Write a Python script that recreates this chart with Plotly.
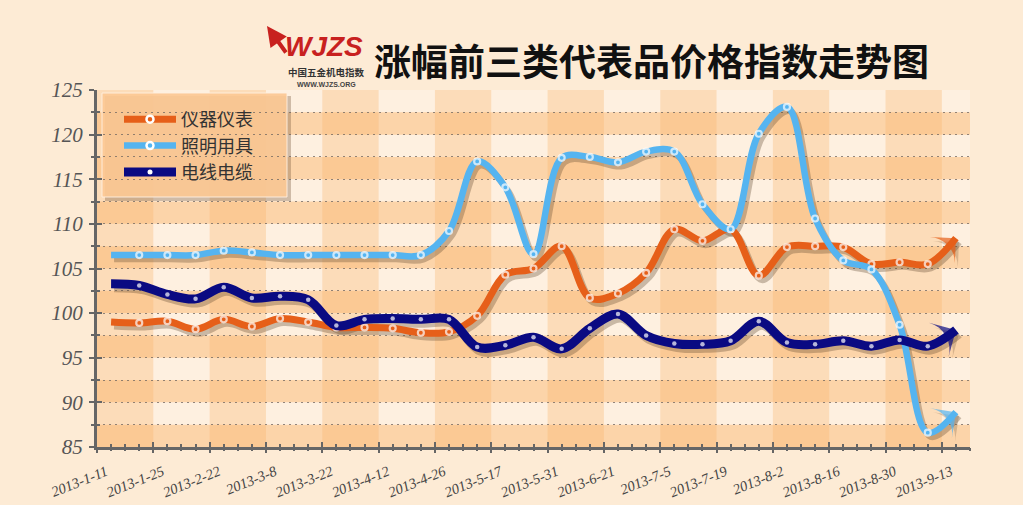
import plotly.graph_objects as go

# ---------------- data ----------------
dates = ["2013-1-11", "2013-1-18", "2013-1-25", "2013-2-1", "2013-2-22", "2013-3-1",
         "2013-3-8", "2013-3-15", "2013-3-22", "2013-3-29", "2013-4-12", "2013-4-19",
         "2013-4-26", "2013-5-10", "2013-5-17", "2013-5-24", "2013-5-31", "2013-6-7",
         "2013-6-21", "2013-6-28", "2013-7-5", "2013-7-12", "2013-7-19", "2013-7-26",
         "2013-8-2", "2013-8-9", "2013-8-16", "2013-8-23", "2013-8-30", "2013-9-6",
         "2013-9-13"]
instruments = [99.0, 98.9, 99.1, 98.2, 99.3, 98.5, 99.4, 99.0, 98.4, 98.4, 98.3, 97.8,
               97.9, 99.7, 104.3, 105.0, 107.5, 101.7, 102.2, 104.5, 109.4, 108.1,
               109.4, 104.2, 107.4, 107.5, 107.4, 105.5, 105.7, 105.5, 108.4]
lighting = [106.5, 106.5, 106.5, 106.5, 107.0, 106.8, 106.5, 106.5, 106.5, 106.5, 106.5,
            106.5, 109.2, 117.0, 114.1, 106.6, 117.4, 117.5, 116.9, 118.1, 118.1, 112.2,
            109.4, 120.1, 123.1, 110.6, 105.9, 104.9, 98.7, 86.6, 88.9]
cables = [103.3, 103.1, 102.1, 101.6, 102.9, 101.7, 101.9, 101.5, 98.6, 99.3, 99.4, 99.3,
          99.3, 96.2, 96.4, 97.3, 96.0, 98.3, 99.9, 97.5, 96.6, 96.5, 96.9, 99.1, 96.7,
          96.5, 96.9, 96.3, 97.0, 96.3, 98.1]
series_names = ["仪器仪表", "照明用具", "电线电缆"]
title_text = "涨幅前三类代表品价格指数走势图"

# ---------------- geometry / style ----------------
W, H = 1023, 505
ML, MR, MT, MB = 97, 53, 90, 58
PW, PH = W - ML - MR, H - MT - MB
n = len(dates)
xs = list(range(n))
X_RANGE = [-0.5, n - 0.5]
Y_RANGE = [85, 125]

ORANGE = "#E65F19"
SKY = "#55B4F0"
NAVY = "#0A0A82"
AXIS = "#666666"
SHADOW = "rgba(95,70,45,0.33)"

# shadow offset in pixels -> shifted axis ranges
sdx, sdy = 3, 4
xu = (X_RANGE[1] - X_RANGE[0]) / PW
yu = (Y_RANGE[1] - Y_RANGE[0]) / PH
X_SH = [X_RANGE[0] - sdx * xu, X_RANGE[1] - sdx * xu]
Y_SH = [Y_RANGE[0] + sdy * yu, Y_RANGE[1] + sdy * yu]


def px_x(p):
    return (p - ML) / PW


def px_y(p):
    return (H - MB - p) / PH


def ax_x(p):
    return X_RANGE[0] + (p - ML) * xu


def ax_y(p):
    return Y_RANGE[0] + (H - MB - p) * yu


fig = go.Figure()

specs = [
    (series_names[0], instruments, ORANGE, 7, "ring"),
    (series_names[1], lighting, SKY, 6.5, "ring"),
    (series_names[2], cables, NAVY, 9, "dot"),
]

symbols = ["circle"] * (n - 1) + ["arrow-wide"]
ARROW = 26

# shadows (base axes, shifted)
for name, vals, col, lw, kind in specs:
    fig.add_trace(go.Scatter(
        x=xs, y=vals, mode="lines+markers", xaxis="x", yaxis="y",
        line=dict(color=SHADOW, width=lw, shape="spline", smoothing=1.0),
        marker=dict(symbol=symbols, size=[0] * (n - 1) + [ARROW], color=SHADOW,
                    angleref="previous", line=dict(width=0)),
        showlegend=False, hoverinfo="skip"))

# main lines
for name, vals, col, lw, kind in specs:
    if kind == "ring":
        mcol = [col] * n
        msize = [6] * (n - 1) + [ARROW]
        mlw = [2.2] * (n - 1) + [0]
    else:
        mcol = ["white"] * (n - 1) + [col]
        msize = [4.5] * (n - 1) + [ARROW + 2]
        mlw = [0] * n
    fig.add_trace(go.Scatter(
        x=xs, y=vals, mode="lines+markers", xaxis="x2", yaxis="y2", name=name,
        line=dict(color=col, width=lw, shape="spline", smoothing=1.0),
        marker=dict(symbol=symbols, size=msize, color=mcol, angleref="previous",
                    line=dict(color="white", width=mlw)),
        showlegend=False, hoverinfo="skip"))

# legend entries
for name, vals, col, lw, kind in specs:
    if kind == "ring":
        mk = dict(symbol="circle", size=7, color=col, line=dict(color="white", width=2.5))
    else:
        mk = dict(symbol="circle", size=5, color="white", line=dict(width=0))
    fig.add_trace(go.Scatter(
        x=[None], y=[None], mode="lines+markers", xaxis="x2", yaxis="y2", name=name,
        line=dict(color=col, width=lw), marker=mk, showlegend=True, hoverinfo="skip"))

# dummy traces so the tick-only overlay axes are drawn
for xa, ya in [("x3", "y2"), ("x4", "y2"), ("x2", "y3")]:
    fig.add_trace(go.Scatter(x=[None], y=[None], xaxis=xa, yaxis=ya,
                             showlegend=False, hoverinfo="skip"))

# ---------------- background bands ----------------
shapes = []
lo = Y_RANGE[0]
while lo < Y_RANGE[1]:
    shapes.append(dict(type="rect", xref="x2", yref="y2", x0=X_RANGE[0], x1=X_RANGE[1],
                       y0=lo, y1=lo + 2.5, fillcolor="rgba(250,178,105,0.46)",
                       line=dict(width=0), layer="below"))
    lo += 5
c = X_RANGE[0]
while c < X_RANGE[1]:
    shapes.append(dict(type="rect", xref="x2", yref="y2", x0=c, x1=min(c + 2, X_RANGE[1]),
                       y0=Y_RANGE[0], y1=Y_RANGE[1], fillcolor="rgba(250,178,105,0.33)",
                       line=dict(width=0), layer="below"))
    c += 4
# legend box and its shadow
shapes.append(dict(type="rect", xref="x2", yref="y2", x0=ax_x(105), x1=ax_x(291),
                   y0=ax_y(96), y1=ax_y(201), fillcolor="rgba(120,90,60,0.35)",
                   line=dict(width=0), layer="below"))
shapes.append(dict(type="rect", xref="x2", yref="y2", x0=ax_x(102), x1=ax_x(287),
                   y0=ax_y(93), y1=ax_y(197), fillcolor="rgba(252,200,148,0.92)",
                   line=dict(width=1, color="rgba(255,240,225,0.9)"), layer="below"))

# ---------------- annotations (title / logo) ----------------
RED = "#C8211F"
annotations = [
    dict(text=title_text, xref="paper", yref="paper", x=px_x(651), y=px_y(60),
         showarrow=False, xanchor="center", yanchor="middle",
         font=dict(family="Noto Sans CJK SC", size=37, color="#111111", weight=700)),
    dict(text="WJZS", xref="paper", yref="paper", x=px_x(324), y=px_y(46),
         showarrow=False, xanchor="center", yanchor="middle",
         font=dict(family="Liberation Sans", size=28, color=RED, weight=700, style="italic")),
    dict(text="", xref="paper", yref="paper", x=px_x(267), y=px_y(26),
         ax=20, ay=28, showarrow=True, arrowhead=2, arrowsize=1, arrowwidth=4,
         arrowcolor=RED),
    dict(text="中国五金机电指数", xref="paper", yref="paper", x=px_x(326), y=px_y(72),
         showarrow=False, xanchor="center", yanchor="middle",
         font=dict(family="Noto Sans CJK SC", size=9.5, color="#333333", weight=700)),
    dict(text="WWW.WJZS.ORG", xref="paper", yref="paper", x=px_x(326), y=px_y(84),
         showarrow=False, xanchor="center", yanchor="middle",
         font=dict(family="Liberation Sans", size=7, color="#444444", weight=700)),
]

GRID = dict(gridcolor="rgba(110,100,95,0.75)", griddash="2px,4px", gridwidth=1)

fig.update_layout(
    width=W, height=H,
    margin=dict(l=ML, r=MR, t=MT, b=MB, autoexpand=False),
    paper_bgcolor="#FDEBD5",
    plot_bgcolor="#FEF0E0",
    hovermode=False,
    shapes=shapes,
    annotations=annotations,
    legend=dict(x=px_x(119), y=px_y(101), xanchor="left", yanchor="top",
                bgcolor="rgba(0,0,0,0)", borderwidth=0, itemwidth=52,
                font=dict(family="Noto Sans CJK SC", size=18, color="#333333")),
    xaxis=dict(visible=False, range=X_SH, fixedrange=True, automargin=False),
    yaxis=dict(visible=False, range=Y_SH, fixedrange=True, automargin=False),
    xaxis2=dict(overlaying="x", anchor="y2", range=X_RANGE, tickmode="array",
                tickvals=xs[::2], ticktext=dates[::2], ticks="", tickangle=-22,
                ticklabelstandoff=8, ticklabelshift=-5, showline=True, linewidth=3,
                linecolor=AXIS, showgrid=False, zeroline=False, automargin=False,
                tickfont=dict(family="Liberation Serif", size=14.5, color="#444444",
                              style="italic")),
    yaxis2=dict(overlaying="y", anchor="x2", range=Y_RANGE, tickmode="linear", tick0=85,
                dtick=5, ticks="outside", ticklen=5, tickwidth=2, tickcolor=AXIS,
                showline=True, linewidth=3, linecolor=AXIS, showgrid=True, zeroline=False,
                ticklabelstandoff=2, automargin=False,
                tickfont=dict(family="Liberation Serif", size=21, color="#555555",
                              style="italic"),
                minor=dict(tick0=85, dtick=2.5, ticks="outside", ticklen=3, tickwidth=2,
                           tickcolor=AXIS, showgrid=True, **GRID),
                **GRID),
    xaxis3=dict(overlaying="x", anchor="y2", range=X_RANGE, tickmode="linear",
                tick0=X_RANGE[0], dtick=2, ticks="outside", ticklen=5, tickwidth=2,
                tickcolor=AXIS, showticklabels=False, showgrid=False, zeroline=False,
                automargin=False,
                minor=dict(tick0=X_RANGE[0], dtick=0.5, ticks="outside", ticklen=3,
                           tickwidth=2, tickcolor=AXIS)),
    xaxis4=dict(overlaying="x", anchor="y2", range=X_RANGE, tickmode="linear",
                tick0=X_RANGE[0], dtick=2, ticks="inside", ticklen=5, tickwidth=2,
                tickcolor=AXIS, showticklabels=False, showgrid=False, zeroline=False,
                automargin=False,
                minor=dict(tick0=X_RANGE[0], dtick=0.5, ticks="inside", ticklen=3,
                           tickwidth=2, tickcolor=AXIS)),
    yaxis3=dict(overlaying="y", anchor="x2", range=Y_RANGE, tickmode="linear", tick0=85,
                dtick=5, ticks="inside", ticklen=5, tickwidth=2, tickcolor=AXIS,
                showticklabels=False, showgrid=False, zeroline=False, automargin=False,
                minor=dict(tick0=85, dtick=2.5, ticks="inside", ticklen=3, tickwidth=2,
                           tickcolor=AXIS)),
)

fig.write_html("out.html",
               config={"displayModeBar": False, "staticPlot": True},
               post_script="document.body.style.margin='0';"
                           "document.body.style.background='#FDEBD5';")
